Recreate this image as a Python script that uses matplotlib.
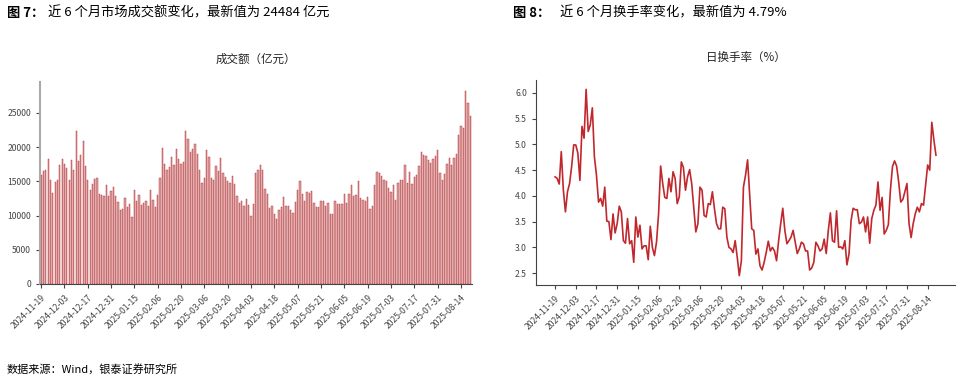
import numpy as np
import matplotlib
matplotlib.use("Agg")
import matplotlib.pyplot as plt

plt.rcParams['font.family'] = ['Noto Sans CJK SC', 'DejaVu Sans']

# 日成交额（亿元），按交易日
turnover = [
    15980, 16500, 16600, 18300, 15150, 13300, 14850, 15250, 17450, 18270,
    17540, 17000, 15250, 18170, 16600, 22300, 17980, 18860, 20950, 17200,
    15250, 13740, 14620, 15300, 15450, 13200, 12960, 12860, 14470, 12860,
    13600, 14130, 12800, 12030, 10820, 10900, 12620, 11260, 11650, 9800,
    13740, 12090, 12960, 11500, 11890, 12180, 11450, 13690, 12330, 11260,
    13060, 15540, 19930, 17590, 16710, 17150, 18520, 17450, 19740, 18220,
    17540, 17880, 22300, 21200, 19250, 19690, 20420, 19050, 16710, 14770,
    15450, 19540, 18610, 15500, 15150, 17300, 16470, 18420, 16230, 15640,
    15060, 14720, 15790, 14668, 12913, 11841, 12183, 11403, 12475, 11500,
    9990, 11646, 16178, 16617, 17445, 16617, 13937, 13108, 11110, 11403,
    10282, 9502, 10769, 11208, 12670, 11354, 11354, 10769, 10428, 11939,
    13693, 15009, 13157, 12183, 13401, 13303, 13547, 11890, 11208, 11208,
    12134, 12134, 11354, 11841, 10282, 10282, 12085, 11646, 11646, 11744,
    13157, 11793, 13157, 14522, 12865, 13060, 15009, 12524, 12329, 12183,
    12768, 10964, 11452, 14424, 16422, 16276, 15789, 15252, 15057, 14083,
    13401, 14473, 12280, 14717, 15252, 15155, 17397, 14814, 16373, 14571,
    15594, 15886, 17299, 19297, 18907, 18761, 18176, 17689, 18274, 18712,
    19638, 16178, 15204, 16129, 17543, 18468, 17348, 18468, 19005, 21734,
    23049, 22709, 28117, 26362, 24484,
]

# 日换手率（%）
turnover_rate = [
    4.37, 4.34, 4.23, 4.86, 4.11, 3.69, 4.08, 4.24, 4.57, 4.99,
    4.99, 4.83, 4.30, 5.35, 5.12, 6.07, 5.25, 5.38, 5.71, 4.76,
    4.40, 3.88, 3.95, 3.80, 4.17, 3.51, 3.50, 3.15, 3.65, 3.28,
    3.46, 3.80, 3.69, 3.13, 3.08, 3.56, 3.07, 3.13, 2.71, 3.59,
    3.20, 3.43, 2.97, 3.03, 3.03, 2.76, 3.41, 3.00, 2.84, 3.10,
    3.65, 4.58, 4.24, 3.97, 3.95, 4.34, 4.08, 4.47, 4.34, 3.85,
    3.98, 4.66, 4.55, 4.11, 4.37, 4.51, 4.24, 3.78, 3.30, 3.46,
    4.17, 4.11, 3.62, 3.59, 3.85, 3.83, 4.08, 3.75, 3.46, 3.36,
    3.36, 3.78, 3.75, 3.20, 3.00, 2.97, 2.90, 3.13, 2.81, 2.45,
    2.74, 4.17, 4.40, 4.70, 4.04, 3.36, 3.33, 2.87, 2.97, 2.64,
    2.56, 2.71, 2.90, 3.12, 2.93, 3.00, 2.93, 2.74, 3.13, 3.46,
    3.76, 3.33, 3.07, 3.13, 3.20, 3.33, 3.10, 2.88, 2.97, 3.10,
    3.07, 2.93, 2.93, 2.56, 2.60, 2.71, 3.10, 3.03, 2.93, 2.97,
    3.16, 2.88, 3.33, 3.67, 3.13, 3.10, 3.71, 3.00, 3.01, 2.97,
    3.13, 2.66, 2.87, 3.52, 3.76, 3.73, 3.73, 3.46, 3.49, 3.59,
    3.30, 3.59, 3.08, 3.56, 3.72, 3.82, 4.27, 3.72, 3.97, 3.26,
    3.33, 3.44, 4.11, 4.57, 4.68, 4.58, 4.27, 3.88, 3.93, 4.08,
    4.24, 3.46, 3.19, 3.46, 3.65, 3.78, 3.69, 3.85, 3.82, 4.21,
    4.60, 4.50, 5.43, 5.09, 4.79,
]

# 每 10 个交易日一个刻度
tick_labels = [
    '2024-11-19', '2024-12-03', '2024-12-17', '2024-12-31', '2025-01-15',
    '2025-02-06', '2025-02-20', '2025-03-06', '2025-03-20', '2025-04-03',
    '2025-04-18', '2025-05-07', '2025-05-21', '2025-06-05', '2025-06-19',
    '2025-07-03', '2025-07-17', '2025-07-31', '2025-08-14',
]
tick_pos = np.arange(len(tick_labels)) * 10

fig = plt.figure(figsize=(9.66, 3.81), dpi=100)

# 左图：成交额
ax1 = fig.add_axes([0.0414, 0.2546, 0.4472, 0.5302])
x1 = np.arange(len(turnover))
ax1.bar(x1, turnover, width=0.55, color='#dba4a4', edgecolor='#b3262b', linewidth=0.3)
ax1.set_xlim(-0.5, len(turnover) - 0.3)
ax1.set_ylim(0, 29500)
ax1.set_yticks(range(0, 25001, 5000))
ax1.set_title('成交额（亿元）', fontsize=8.3, pad=14, color='#222222')

# 右图：换手率
ax2 = fig.add_axes([0.5549, 0.252, 0.4337, 0.538])
x2 = np.arange(len(turnover_rate))
ax2.plot(x2, turnover_rate, color='#c0282d', linewidth=1.2)
ax2.margins(x=0.05, y=0.05)
ax2.set_yticks([2.5, 3.0, 3.5, 4.0, 4.5, 5.0, 5.5, 6.0])
ax2.set_yticklabels(['%.1f' % v for v in [2.5, 3.0, 3.5, 4.0, 4.5, 5.0, 5.5, 6.0]])
ax2.set_title('日换手率（%）', fontsize=8.3, pad=14, color='#222222')

for ax in (ax1, ax2):
    ax.set_xticks(tick_pos)
    ax.set_xticklabels(tick_labels, rotation=45, ha='right', rotation_mode='anchor')
    ax.tick_params(axis='both', labelsize=6.2, colors='#444444', length=3, width=0.8)
    ax.spines['top'].set_visible(False)
    ax.spines['right'].set_visible(False)
    ax.spines['bottom'].set_color('#444444')
    ax.spines['left'].set_color('#444444')
ax1.spines['left'].set_color('#aaaaaa')
ax1.spines['left'].set_linewidth(1.5)

# 图号与标题
fig.text(0.007, 0.965, '图 7：', fontsize=9.5, fontweight='bold', va='center')
fig.text(0.050, 0.965, '近 6 个月市场成交额变化，最新值为 24484 亿元', fontsize=9.5, va='center')
fig.text(0.531, 0.965, '图 8：', fontsize=9.5, fontweight='bold', va='center')
fig.text(0.580, 0.965, '近 6 个月换手率变化，最新值为 4.79%', fontsize=9.5, va='center')
fig.text(0.007, 0.031, '数据来源：Wind，银泰证券研究所', fontsize=8, va='center')

fig.savefig('out.png', dpi=100)
